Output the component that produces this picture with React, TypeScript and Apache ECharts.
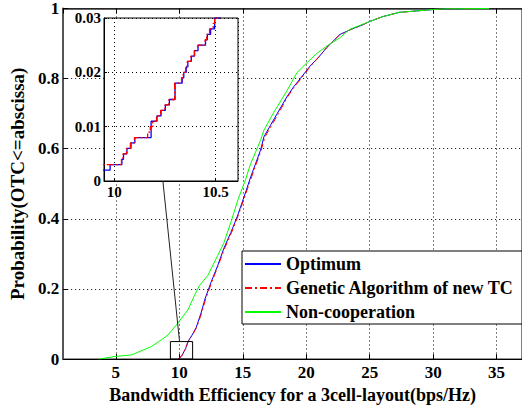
import React, { useEffect, useRef } from "react";
import * as echarts from "echarts";

// ---- Main plot data (CDF curves) ----
const optX = [9.93, 10.2, 10.5, 10.68, 11.0, 11.33, 11.7, 12.03, 12.5, 13.02, 13.49, 14.06, 14.58, 15.03, 15.63, 16.4, 16.67, 17.2, 17.71, 18.49, 19.0, 19.53, 20.31, 21.0, 21.6, 22.66, 23.5, 24.35, 25.0, 26.04, 27.34, 28.65, 29.95, 31.0, 33.0];
const optY = [0, 0.01, 0.03, 0.05, 0.068, 0.09, 0.13, 0.172, 0.219, 0.266, 0.314, 0.361, 0.408, 0.455, 0.52, 0.596, 0.634, 0.668, 0.7, 0.749, 0.776, 0.8, 0.836, 0.862, 0.888, 0.926, 0.94, 0.952, 0.963, 0.977, 0.989, 0.993, 0.997, 0.999, 1.0];

const gaX = [9.93, 10.2, 10.5, 10.7, 11.02, 11.36, 11.75, 12.08, 12.55, 13.06, 13.55, 14.12, 14.63, 15.08, 15.7, 16.45, 16.75, 17.3, 17.8, 18.55, 19.05, 19.6, 20.35, 21.0, 21.6, 22.66, 23.5, 24.35, 25.0, 26.04, 27.34, 28.65, 29.95, 31.0, 33.0];
const gaY = [0, 0.01, 0.03, 0.05, 0.068, 0.09, 0.13, 0.172, 0.219, 0.266, 0.314, 0.361, 0.408, 0.455, 0.52, 0.596, 0.634, 0.668, 0.7, 0.749, 0.776, 0.8, 0.836, 0.862, 0.888, 0.926, 0.94, 0.952, 0.963, 0.977, 0.989, 0.993, 0.997, 0.999, 1.0];

const ncX = [3.65, 4.95, 6.25, 6.9, 7.81, 8.59, 9.11, 9.77, 10.16, 10.68, 11.2, 11.59, 12.24, 13.02, 13.5, 14.06, 14.63, 15.2, 15.63, 16.4, 16.67, 17.45, 18.49, 19.27, 20.05, 20.84, 21.9, 22.6, 23.4, 25.0, 26.04, 27.34, 28.65, 29.95, 30.99, 34.4];
const ncY = [0, 0.0075, 0.012, 0.022, 0.036, 0.055, 0.069, 0.097, 0.116, 0.14, 0.182, 0.21, 0.238, 0.295, 0.33, 0.39, 0.455, 0.51, 0.558, 0.624, 0.653, 0.704, 0.766, 0.817, 0.845, 0.872, 0.9, 0.915, 0.94, 0.963, 0.977, 0.989, 0.993, 0.997, 0.999, 1.0];

// ---- Inset (zoomed) staircase data ----
const insOptX = [9.9, 9.98, 10.038, 10.046, 10.063, 10.083, 10.102, 10.182, 10.211, 10.231, 10.252, 10.272, 10.3, 10.335, 10.343, 10.355, 10.363, 10.38, 10.396, 10.413, 10.45, 10.459, 10.475, 10.495, 10.52];
const insOptY = [0.002, 0.003, 0.004, 0.005, 0.006, 0.007, 0.008, 0.011, 0.012, 0.013, 0.014, 0.015, 0.018, 0.019, 0.02, 0.021, 0.022, 0.023, 0.024, 0.025, 0.026, 0.027, 0.028, 0.03, 0.032];

const insGaX = [9.9, 10.036, 10.044, 10.061, 10.08, 10.1, 10.165, 10.178, 10.19, 10.209, 10.229, 10.25, 10.27, 10.298, 10.332, 10.34, 10.352, 10.36, 10.378, 10.395, 10.412, 10.448, 10.456, 10.47, 10.488, 10.495, 10.52];
const insGaY = [0.003, 0.004, 0.005, 0.006, 0.007, 0.008, 0.009, 0.01, 0.011, 0.012, 0.013, 0.014, 0.015, 0.018, 0.019, 0.02, 0.021, 0.022, 0.023, 0.024, 0.025, 0.026, 0.027, 0.028, 0.029, 0.03, 0.032];

// zoom rectangle in main plot (data coords)
const boxX = [9.3, 11.05];
const boxY = [0, 0.05];

const seriesNames = ["Optimum", "Genetic Algorithm of new TC", "Non-cooperation"];

const FONT = "Times New Roman, Liberation Serif, DejaVu Serif, serif";

const zip = (xs: number[], ys: number[]) => xs.map((x, i) => [x, ys[i]]);

const MAIN = { left: 61, top: 6, width: 463, height: 355 };
const INSET = { left: 104, top: 18, width: 134, height: 163 };
const LEGEND_BOX = { x: 242, y: 251, w: 280, h: 73 };

export default function App() {
  const ref = useRef<HTMLDivElement>(null);
  useEffect(() => {
    if (!ref.current) return;
    const chart = echarts.init(ref.current, null, { renderer: "svg" });
    const tickFont = { fontFamily: FONT, fontWeight: "bold" as const, color: "#000" };
    const option: any = {
      animation: false,
      backgroundColor: "#fff",
      textStyle: { fontFamily: FONT },
      grid: [
        { ...MAIN, show: true, borderColor: "#000", borderWidth: 1 },
        { ...INSET, show: false },
      ],
      legend: {
        data: seriesNames,
        orient: "vertical",
        left: 244,
        top: 255,
        itemWidth: 36,
        itemHeight: 18,
        itemGap: 6,
        padding: 0,
        z: 20,
        itemStyle: { opacity: 0 },
        textStyle: { ...tickFont, fontSize: 18, lineHeight: 18 },
      },
      xAxis: [
        {
          gridIndex: 0,
          type: "value",
          min: 0.85,
          max: 37,
          splitNumber: 7,
          axisLine: { show: true, lineStyle: { color: "#000", width: 1 } },
          axisTick: { show: true, inside: true, length: 5, lineStyle: { color: "#000" } },
          axisLabel: { ...tickFont, fontSize: 17, margin: 5, showMinLabel: false, showMaxLabel: false },
          splitLine: { show: true, lineStyle: { color: "#000", type: [1, 3], width: 1 } },
          name: "Bandwidth Efficiency for a 3cell-layout(bps/Hz)",
          nameLocation: "middle",
          nameGap: 22,
          nameTextStyle: { ...tickFont, fontSize: 18 },
        },
        {
          gridIndex: 0,
          type: "value",
          position: "top",
          min: 0.85,
          max: 37,
          splitNumber: 7,
          axisLine: { show: true, lineStyle: { color: "#333", width: 1.5 } },
          axisTick: { show: true, inside: true, length: 5, lineStyle: { color: "#000" } },
          axisLabel: { show: false },
          splitLine: { show: false },
        },
        {
          gridIndex: 1,
          type: "value",
          min: 9.95,
          max: 10.61,
          splitNumber: 1,
          z: 6,
          axisLine: { show: true, lineStyle: { color: "#000", width: 1 } },
          axisTick: { show: true, inside: true, length: 3, lineStyle: { color: "#000" } },
          axisLabel: { ...tickFont, fontSize: 15, margin: 3, showMinLabel: false, showMaxLabel: false },
          splitLine: { show: true, lineStyle: { color: "#000", type: [1, 3], width: 1 } },
        },
      ],
      yAxis: [
        {
          gridIndex: 0,
          type: "value",
          min: 0,
          max: 1,
          interval: 0.2,
          axisLine: { show: true, lineStyle: { color: "#555", width: 2 } },
          axisTick: { show: true, inside: true, length: 5, lineStyle: { color: "#000" } },
          axisLabel: { ...tickFont, fontSize: 17, margin: 4 },
          splitLine: { show: true, lineStyle: { color: "#000", type: [1, 3], width: 1 } },
          name: "Probability(OTC<=abscissa)",
          nameLocation: "middle",
          nameGap: 29,
          nameTextStyle: { ...tickFont, fontSize: 19 },
        },
        {
          gridIndex: 1,
          type: "value",
          min: 0,
          max: 0.03,
          interval: 0.01,
          z: 6,
          axisLine: { show: true, lineStyle: { color: "#000", width: 1 } },
          axisTick: { show: true, inside: true, length: 3, lineStyle: { color: "#000" } },
          axisLabel: { ...tickFont, fontSize: 15, margin: 3 },
          splitLine: { show: true, lineStyle: { color: "#000", type: [1, 3], width: 1 } },
        },
      ],
      graphic: [
        {
          type: "rect",
          z: 4,
          shape: { x: INSET.left, y: INSET.top, width: INSET.width, height: INSET.height },
          style: { fill: "#fff", stroke: "#000", lineWidth: 1 },
        },
        {
          type: "rect",
          z: 15,
          shape: { x: LEGEND_BOX.x, y: LEGEND_BOX.y, width: LEGEND_BOX.w, height: LEGEND_BOX.h },
          style: { fill: "#fff", stroke: "#000", lineWidth: 1 },
        },
      ],
      series: [
        {
          name: seriesNames[0],
          type: "line",
          xAxisIndex: 0,
          yAxisIndex: 0,
          data: zip(optX, optY),
          symbol: "none",
          lineStyle: { color: "#0000ff", width: 1 },
          itemStyle: { color: "#0000ff" },
          z: 2,
        },
        {
          name: seriesNames[1],
          type: "line",
          xAxisIndex: 0,
          yAxisIndex: 0,
          data: zip(gaX, gaY),
          symbol: "none",
          lineStyle: { color: "#ff0000", width: 1, type: [7, 3, 2, 3] },
          itemStyle: { color: "#ff0000" },
          z: 2,
        },
        {
          name: seriesNames[2],
          type: "line",
          xAxisIndex: 0,
          yAxisIndex: 0,
          data: zip(ncX, ncY),
          symbol: "none",
          lineStyle: { color: "#00ff00", width: 1 },
          itemStyle: { color: "#00ff00" },
          z: 2,
        },
        {
          type: "line",
          xAxisIndex: 0,
          yAxisIndex: 0,
          data: [
            [boxX[0], boxY[0]],
            [boxX[1], boxY[0]],
            [boxX[1], boxY[1]],
            [boxX[0], boxY[1]],
            [boxX[0], boxY[0]],
          ],
          symbol: "none",
          lineStyle: { color: "#000", width: 1 },
          z: 3,
        },
        {
          type: "line",
          xAxisIndex: 2,
          yAxisIndex: 1,
          data: zip(insOptX, insOptY),
          step: "end",
          symbol: "none",
          lineStyle: { color: "#0000ff", width: 1.3 },
          z: 7,
        },
        {
          type: "line",
          xAxisIndex: 2,
          yAxisIndex: 1,
          data: zip(insGaX, insGaY),
          step: "end",
          symbol: "none",
          lineStyle: { color: "#ff0000", width: 1.3, type: [7, 2, 2, 2] },
          z: 8,
        },
      ],
    };
    chart.setOption(option);

    // connector line from the zoom box to the inset
    const p1 = chart.convertToPixel({ xAxisIndex: 0, yAxisIndex: 0 } as any, [10.02, boxY[1]]);
    const p2 = chart.convertToPixel({ xAxisIndex: 2, yAxisIndex: 1 } as any, [10.24, 0]);
    if (p1 && p2) {
      chart.setOption({
        graphic: [
          {},
          {},
          {
            type: "line",
            z: 9,
            shape: { x1: p1[0], y1: p1[1], x2: p2[0], y2: p2[1] },
            style: { stroke: "#222", lineWidth: 1 },
          },
        ],
      });
    }
    return () => chart.dispose();
  }, []);
  return (
    <div
      ref={ref}
      style={{ position: "absolute", left: 0, top: 0, width: 522, height: 409 }}
    />
  );
}
